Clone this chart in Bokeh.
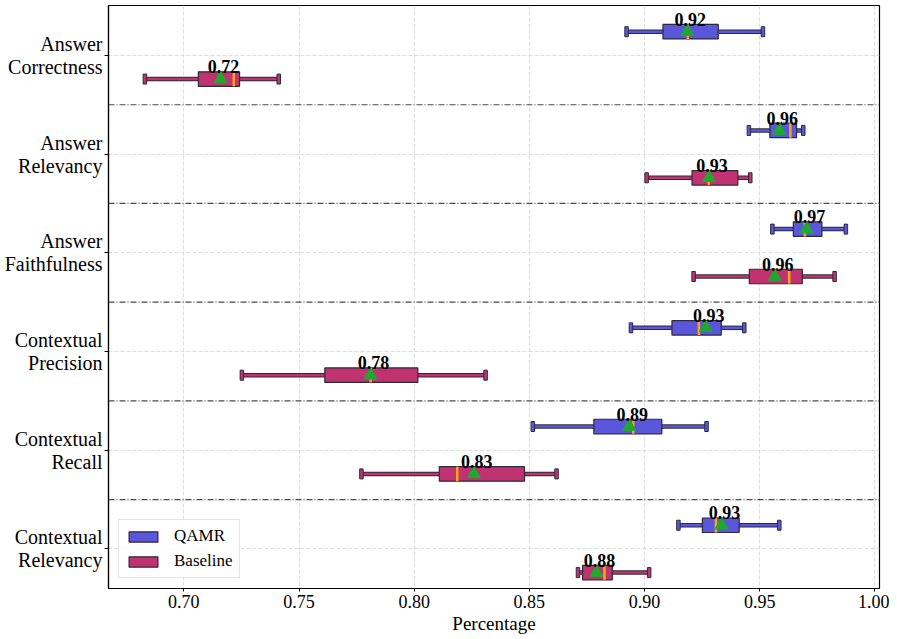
from bokeh.plotting import figure
from bokeh.models import (Range1d, FixedTicker, Span, Legend, LegendItem,
                          ColumnDataSource, PrintfTickFormatter)
from bokeh.embed import file_html
from bokeh.resources import INLINE
from bokeh.core.properties import value

# ---------------- data ----------------
categories = ["Answer\nCorrectness", "Answer\nRelevancy", "Answer\nFaithfulness",
              "Contextual\nPrecision", "Contextual\nRecall", "Contextual\nRelevancy"]

qamr_whislo = [0.8922, 0.9453, 0.9555, 0.8941, 0.8515, 0.9147]
qamr_q1     = [0.9080, 0.9544, 0.9646, 0.9119, 0.8780, 0.9251]
qamr_med    = [0.9188, 0.9633, 0.9696, 0.9236, 0.8951, 0.9310]
qamr_mean   = [0.9185, 0.9585, 0.9703, 0.9266, 0.8934, 0.9334]
qamr_q3     = [0.9320, 0.9660, 0.9770, 0.9333, 0.9075, 0.9411]
qamr_whishi = [0.9514, 0.9689, 0.9874, 0.9433, 0.9269, 0.9585]
qamr_labels = ["0.92", "0.96", "0.97", "0.93", "0.89", "0.93"]

base_whislo = [0.6831, 0.9009, 0.9213, 0.7252, 0.7771, 0.8711]
base_q1     = [0.7063, 0.9206, 0.9455, 0.7612, 0.8109, 0.8731]
base_med    = [0.7217, 0.9279, 0.9628, 0.7811, 0.8187, 0.8826]
base_mean   = [0.7159, 0.9280, 0.9565, 0.7810, 0.8259, 0.8791]
base_q3     = [0.7242, 0.9405, 0.9685, 0.8016, 0.8479, 0.8860]
base_whishi = [0.7412, 0.9459, 0.9825, 0.8310, 0.8618, 0.9020]
base_labels = ["0.72", "0.93", "0.96", "0.78", "0.83", "0.88"]

x_ticks = [0.70, 0.75, 0.80, 0.85, 0.90, 0.95, 1.00]

# ---------------- style ----------------
FONT = "Liberation Serif"
QAMR_COLOR = "#5B57DB"
BASE_COLOR = "#C13370"
EDGE = "#2b2b3a"
MED_COLOR = "#FFA31A"
MEAN_COLOR = "#1DAA2C"
BOX_H = 0.147
OFFSET = 0.24

p = figure(width=889, height=638, output_backend="svg", toolbar_location=None,
           x_range=Range1d(0.6673, 1.0020), y_range=Range1d(5.401, -0.5056),
           min_border_left=108, min_border_right=10, min_border_top=5,
           min_border_bottom=50)

p.outline_line_color = "black"
p.outline_line_width = 1.2
p.background_fill_color = "white"

# axes
p.xaxis.ticker = FixedTicker(ticks=x_ticks)
p.xaxis.formatter = PrintfTickFormatter(format="%.2f")
p.xaxis.major_label_text_font = FONT
p.xaxis.major_label_text_font_size = "18px"
p.xaxis.major_label_text_color = "black"
p.xaxis.major_tick_out = 3
p.xaxis.major_tick_in = 0
p.xaxis.minor_tick_out = 0
p.xaxis.minor_tick_in = 0
p.xaxis.major_label_standoff = 3
p.xaxis.axis_label = "Percentage"
p.xaxis.axis_label_text_font = FONT
p.xaxis.axis_label_text_font_size = "19px"
p.xaxis.axis_label_text_font_style = "normal"
p.xaxis.axis_label_text_color = "black"
p.xaxis.axis_label_standoff = 2
p.xaxis.axis_line_color = "black"
p.xaxis.axis_line_width = 1.2

p.yaxis.ticker = FixedTicker(ticks=list(range(len(categories))))
p.yaxis.major_label_overrides = {i: c for i, c in enumerate(categories)}
p.yaxis.major_label_text_font = FONT
p.yaxis.major_label_text_font_size = "20px"
p.yaxis.major_label_text_color = "black"
p.yaxis.major_label_text_line_height = 1.05
p.yaxis.major_tick_out = 4
p.yaxis.major_tick_in = 0
p.yaxis.minor_tick_out = 0
p.yaxis.minor_tick_in = 0
p.yaxis.major_label_standoff = 2
p.yaxis.axis_line_color = "black"
p.yaxis.axis_line_width = 1.2

# grid
p.xgrid.ticker = FixedTicker(ticks=x_ticks)
p.xgrid.grid_line_color = "#d4d4d4"
p.xgrid.grid_line_dash = "4 2"
p.xgrid.grid_line_width = 0.8
p.ygrid.grid_line_color = "#d4d4d4"
p.ygrid.grid_line_dash = "4 2"
p.ygrid.grid_line_width = 0.8

# separators between categories
for i in range(len(categories) - 1):
    p.add_layout(Span(location=i + 0.5, dimension="width", line_color="#4a4a4a",
                      line_dash="6 2 1 2", line_width=1.2))


def draw(offset, lo, q1, med, mean, q3, hi, labels, fill):
    ys = [i + offset for i in range(len(lo))]
    src = ColumnDataSource(dict(y=ys, ytext=[y - BOX_H / 2 for y in ys],
                                lo=lo, q1=q1, med=med, mean=mean, q3=q3, hi=hi,
                                lab=labels))
    # whiskers (dark outline then coloured core)
    for a, b in (("lo", "q1"), ("q3", "hi")):
        p.segment(x0=a, y0="y", x1=b, y1="y", source=src, line_color=EDGE,
                  line_width=4.5)
        p.segment(x0=a, y0="y", x1=b, y1="y", source=src, line_color=fill,
                  line_width=2.5)
    # caps
    for c in ("lo", "hi"):
        p.rect(x=c, y="y", width=3.5, height=10, width_units="screen",
               height_units="screen", source=src, fill_color=fill,
               line_color=EDGE, line_width=1)
    # box
    box = p.hbar(y="y", left="q1", right="q3", height=BOX_H, source=src,
                 fill_color=fill, line_color=EDGE, line_width=1.2)
    # median
    p.rect(x="med", y="y", width=2.5, width_units="screen", height=BOX_H,
           source=src, fill_color=MED_COLOR, line_color=None)
    # mean
    p.scatter(x="mean", y="y", marker="triangle", size=13, source=src,
              fill_color=MEAN_COLOR, line_color=MEAN_COLOR)
    # value label
    p.text(x="mean", y="ytext", text="lab", source=src, text_font=value(FONT),
           text_font_style="bold", text_font_size="18px", text_align="center",
           text_baseline="alphabetic", x_offset=3, y_offset=-5, text_color="black")
    return box


box_q = draw(-OFFSET, qamr_whislo, qamr_q1, qamr_med, qamr_mean, qamr_q3,
             qamr_whishi, qamr_labels, QAMR_COLOR)
box_b = draw(OFFSET, base_whislo, base_q1, base_med, base_mean, base_q3,
             base_whishi, base_labels, BASE_COLOR)

legend = Legend(items=[LegendItem(label="QAMR", renderers=[box_q]),
                       LegendItem(label="Baseline", renderers=[box_b])],
                location="bottom_left")
legend.margin = 10
legend.padding = 6
legend.spacing = 5
legend.glyph_width = 36
legend.glyph_height = 13
legend.label_height = 20
legend.label_standoff = 13
legend.label_text_font = FONT
legend.label_text_font_size = "17px"
legend.label_text_color = "black"
legend.border_line_color = "#cccccc"
legend.border_line_width = 1
legend.background_fill_color = "white"
legend.background_fill_alpha = 0.85
p.add_layout(legend)

open("out.html", "w").write(file_html(p, INLINE))
